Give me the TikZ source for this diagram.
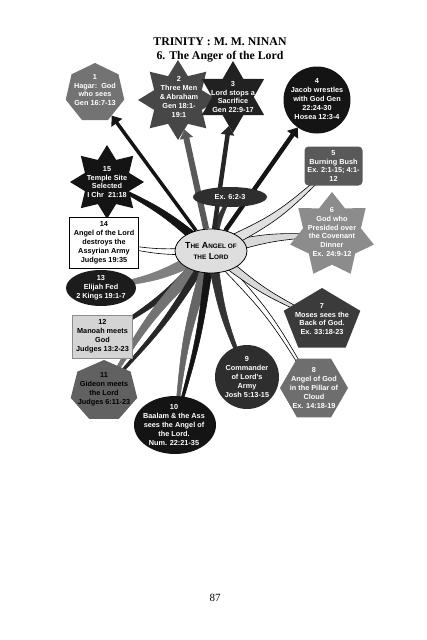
\documentclass[tikz,border=0pt]{standalone}
\usepackage{fontspec}
\setmainfont{Liberation Serif}
\newfontfamily\arialf{Liberation Sans}
\usetikzlibrary{shapes.geometric,calc,arrows.meta}
\pgfdeclarelayer{bg}
\pgfsetlayers{bg,main}
% curved tapering spoke: fill, draw, from, to, half width, bend angle
\newcommand\spk[6]{\filldraw[fill=#1,draw=#2,line width=0.6pt,line join=round]
  ($(#3.center)!#5!90:(#4.center)$) coordinate (sa)
  ($(#3.center)!#5!-90:(#4.center)$) coordinate (sb)
  ($(#4.center)!0.8pt!-90:(#3.center)$) coordinate (ta)
  ($(#4.center)!0.8pt!90:(#3.center)$) coordinate (tb)
  ($(sa)!0.5!#6:(ta)$) coordinate (ma)
  ($(sb)!0.5!#6:(tb)$) coordinate (mb)
  (sa) .. controls (ma) .. (ta) -- (tb) .. controls (mb) .. (sb) -- cycle;}
\newcommand\fsc[1]{{\fontsize{6.4}{8}\selectfont #1}}
\begin{document}
\begin{tikzpicture}[x=1pt,y=-1pt,
  txt/.style={font=\arialf\bfseries\fontsize{7.3}{8.9}\selectfont, align=center, text=white, inner sep=0pt},
  btxt/.style={txt, text=black},
  shp/.style={draw=none, inner sep=0pt, outer sep=0pt},
  arr/.style={line width=#1, -{Triangle[length=9pt,width=13pt]}},
  arr/.default=4pt]
\useasboundingbox (0,0) rectangle (427,640);

% title and page number
\node[align=center, font=\bfseries\fontsize{11.8}{14.5}\selectfont] (title) at (220,50)
  {TRINITY : M. M. NINAN\\6. The Anger of the Lord};
\node[font=\fontsize{11}{13}\selectfont] (page) at (215,598) {87};

% shapes
\node[shp, regular polygon, regular polygon sides=7, minimum size=60pt, fill=black!55] (n1) at (95,93) {};
\node[shp, star, star points=8, star point ratio=1.55, minimum size=80pt, fill=black!72] (n2) at (178,100) {};
\node[shp, star, star points=6, star point ratio=1.73, minimum size=72pt, fill=black!87] (n3) at (233,97) {};
\node[shp, circle, minimum size=67pt, fill=black!92] (n4) at (317,100) {};
\node[shp, rectangle, rounded corners=4pt, minimum width=58pt, minimum height=39pt, fill=black!65] (n5) at (333.5,166) {};
\node[shp, star, star points=7, star point ratio=1.45, minimum size=86pt, fill=black!45] (n6) at (332,235) {};
\node[shp, regular polygon, regular polygon sides=5, minimum size=66pt, xscale=1.22, fill=black!77] (n7) at (322,321) {};
\node[shp, regular polygon, regular polygon sides=6, minimum size=68pt, fill=black!57] (n8) at (314,388) {};
\node[shp, circle, minimum size=64pt, fill=black!82] (n9) at (247,377) {};
\node[shp, ellipse, minimum width=82pt, minimum height=58pt, fill=black!92] (n10) at (175,425) {};
\node[shp, regular polygon, regular polygon sides=7, minimum size=62pt, xscale=1.1, fill=black!62] (n11) at (104,391) {};
\node[rectangle, draw=black!45, line width=0.5pt, fill=black!17, minimum width=60pt, minimum height=43pt, inner sep=0pt] (n12) at (102.5,336.5) {};
\node[shp, ellipse, minimum width=70pt, minimum height=36pt, fill=black!89] (n13) at (101,288) {};
\node[shp, star, star points=8, star point ratio=1.55, minimum size=74pt, fill=black!92] (n15) at (107,182) {};
\node[rectangle, draw=black, line width=0.5pt, fill=white, minimum width=69pt, minimum height=51pt, inner sep=0pt] (n14) at (104,242.5) {};
\node[shp, ellipse, minimum width=74pt, minimum height=20pt, fill=black!82] (ex) at (230,197) {};
\node[ellipse, draw=black, line width=0.8pt, fill=black!13, minimum width=72pt, minimum height=44pt, inner sep=0pt] (c) at (211,251) {};

% texts
\node[txt] (t1) at (95,90) {1\\Hagar:\ \ God\\who sees\\Gen 16:7-13};
\node[txt] (t2) at (179,97) {2\\Three Men\\\&\,Abraham\\Gen 18:1-\\19:1};
\node[txt] (t3) at (233,97) {3\\Lord stops a\\Sacrifice\\Gen 22:9-17};
\node[txt] (t4) at (317,99) {4\\Jacob wrestles\\with God Gen\\22:24-30\\Hosea 12:3-4};
\node[txt] (t5) at (333.5,166) {5\\Burning Bush\\Ex. 2:1-15; 4:1-\\12};
\node[txt] (t6) at (332,232) {6\\God who\\Presided over\\the Covenant\\Dinner\\Ex. 24:9-12};
\node[txt] (t7) at (322,319) {7\\Moses sees the\\Back of God.\\Ex. 33:18-23};
\node[txt] (t8) at (314,388) {8\\Angel of God\\in the Pillar of\\Cloud\\Ex. 14:18-19};
\node[txt] (t9) at (247,377) {9\\Commander\\of Lord's\\Army\\Josh 5:13-15};
\node[txt] (t10) at (174,425) {10\\Baalam \& the Ass\\sees the Angel of\\the Lord.\\Num. 22:21-35};
\node[btxt] (t11) at (104,389) {11\\Gideon meets\\the Lord\\Judges 6:11-23};
\node[btxt] (t12) at (102.5,336.5) {12\\Manoah meets\\God\\Judges 13:2-23};
\node[txt] (t13) at (101,288) {13\\Elijah Fed\\2 Kings 19:1-7};
\node[btxt] (t14) at (104,242.5) {14\\Angel of the Lord\\destroys the\\Assyrian Army\\Judges 19:35};
\node[txt] (t15) at (107,182) {15\\Temple Site\\Selected\\I Chr\ \ 21:18};
\node[txt] (tex) at (230,197) {Ex. 6:2-3};
\node[font=\arialf\bfseries\fontsize{8.8}{12}\selectfont, align=center, inner sep=0pt] (tc) at (211,251)
  {T\fsc{HE} A\fsc{NGEL OF}\\\fsc{THE} L\fsc{ORD}};

% connectors
\begin{pgfonlayer}{bg}
\spk{black!50}{black!50}{c}{n13}{7pt}{8}
\spk{black!85}{black!85}{c}{n12}{5pt}{6}
\spk{black!55}{black!55}{c}{n11}{7pt}{-6}
\spk{black!85}{black!85}{c}{n11}{4pt}{5}
\spk{black!60}{black!60}{c}{n10}{6pt}{-5}
\spk{black!92}{black!92}{c}{n10}{4pt}{4}
\spk{black!80}{black!80}{c}{n9}{5pt}{-6}
\spk{white}{black}{c}{n8}{4pt}{6}
\spk{black!15}{black}{c}{n7}{5pt}{-6}
\spk{black!15}{black}{c}{n6}{7pt}{6}
\spk{black!12}{black}{c}{n5}{6pt}{-8}
\spk{white}{black}{c}{n14}{4pt}{6}
\spk{black!92}{black!92}{c}{n15}{5pt}{-6}
\spk{black!80}{black!80}{c}{ex}{5pt}{8}
\draw[arr=3.5pt, black!92] (c) -- (n1);
\draw[arr=6pt, black!65] (c) -- (n2);
\draw[arr=4.5pt, black!85] (c) -- (n3);
\draw[arr=4.5pt, black!92] (c) -- (n4);
\end{pgfonlayer}
\end{tikzpicture}
\end{document}
